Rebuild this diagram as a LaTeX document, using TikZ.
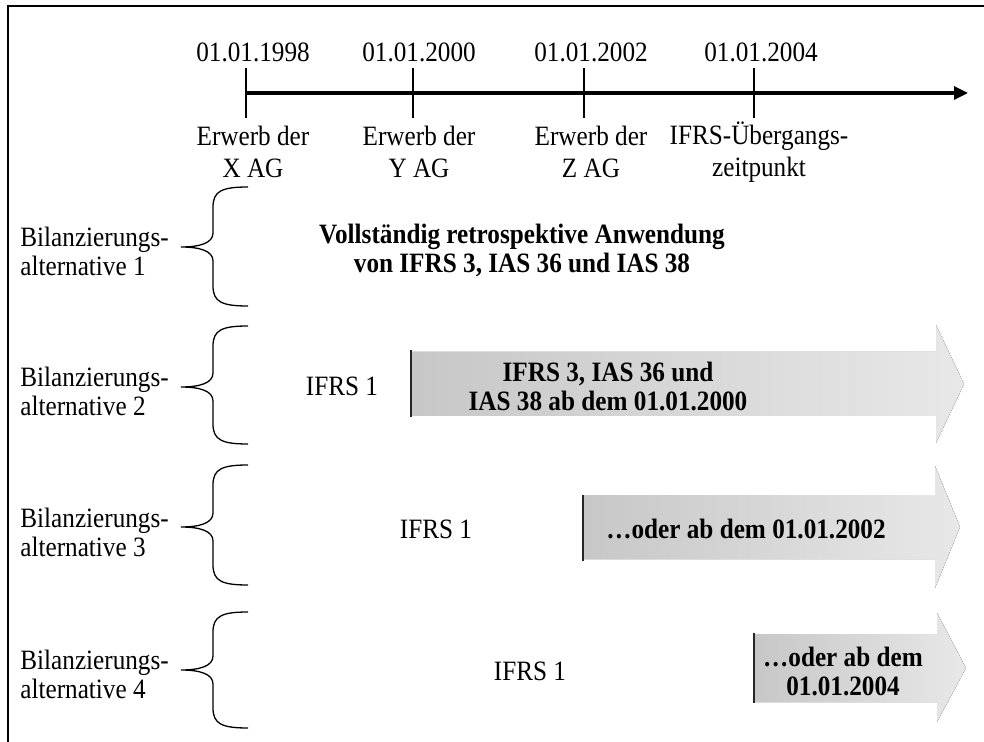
\documentclass[tikz,border=0pt]{standalone}
\usepackage{fontspec}
\setmainfont{Liberation Serif}[FakeStretch=0.9]
\usetikzlibrary{arrows.meta}
\tikzset{
  txt/.style={font=\fontsize{14}{14.5}\selectfont, inner sep=0pt, align=center},
  toptxt/.style={font=\fontsize{14}{16}\selectfont, inner sep=0pt, align=center},
  boldtxt/.style={font=\fontsize{14}{14.5}\selectfont\bfseries, inner sep=0pt, align=center},
  lefttxt/.style={font=\fontsize{14}{14.5}\selectfont, inner sep=0pt, align=left, anchor=west},
  tickline/.style={line width=0.6pt},
  axisline/.style={line width=1.6pt, -{Triangle[length=7pt,width=6.5pt]}},
  bracestyle/.style={line width=0.65pt},
  startbar/.style={line width=1.1pt, black!85},
  shadearrow/.style={left color=black!22, right color=black!9, draw=none},
  framestyle/.style={line width=0.8pt}
}
\newcommand{\mybrace}[3]{%
  \draw[bracestyle] (248,#1) .. controls (222,#1) and (213,#1+4) .. (213,#1+20)
    -- (213,#2-14) .. controls (213,#2-4) and (200,#2) .. (181,#2)
    .. controls (200,#2) and (213,#2+4) .. (213,#2+14)
    -- (213,#3-20) .. controls (213,#3-4) and (222,#3) .. (248,#3);}
\begin{document}
\begin{tikzpicture}[x=0.5pt,y=-0.5pt]
\useasboundingbox (0,0) rectangle (984,742);
% frame
\draw[framestyle] (984,6) -- (8,6) -- (8,742);

% timeline
\coordinate (t0) at (246,93);
\coordinate (tend) at (968,93);
\draw[axisline] (t0) -- (tend);
\foreach \n/\x in {a/246,b/413,c/584,d/754}{
  \coordinate (\n top) at (\x,68);
  \coordinate (\n bot) at (\x,118);
  \draw[tickline] (\n top) -- (\n bot);
}
\node[txt] (d1) at (253,52) {01.01.1998};
\node[txt] (d2) at (419,52) {01.01.2000};
\node[txt] (d3) at (591,52) {01.01.2002};
\node[txt] (d4) at (761,52) {01.01.2004};

\node[toptxt] (e1) at (253,152) {Erwerb der\\X AG};
\node[toptxt] (e2) at (419,152) {Erwerb der\\Y AG};
\node[toptxt] (e3) at (591,152) {Erwerb der\\Z AG};
\node[toptxt] (e4) at (759,152) {IFRS-Übergangs-\\zeitpunkt};

% alternatives labels
\node[lefttxt] (l1) at (20,251) {Bilanzierungs-\\alternative 1};
\node[lefttxt] (l2) at (20,391) {Bilanzierungs-\\alternative 2};
\node[lefttxt] (l3) at (20,532) {Bilanzierungs-\\alternative 3};
\node[lefttxt] (l4) at (20,674) {Bilanzierungs-\\alternative 4};

% braces
\mybrace{187}{247}{306}
\mybrace{326}{387}{444}
\mybrace{465}{527}{585}
\mybrace{612}{670}{728}

% alternative 1
\node[boldtxt] (a1) at (522,250) {Vollständig retrospektive Anwendung\\von IFRS 3, IAS 36 und IAS 38};

% alternative 2
\fill[shadearrow] (411,352) -- (936,352) -- (936,325) -- (964,384) -- (936,443) -- (936,416) -- (411,416) -- cycle;
\coordinate (b2t) at (411,350);
\coordinate (b2b) at (411,417);
\draw[startbar] (b2t) -- (b2b);
\node[txt] (i2) at (342,386) {IFRS 1};
\node[boldtxt] (a2) at (608,386) {IFRS 3, IAS 36 und\\IAS 38 ab dem 01.01.2000};

% alternative 3
\fill[shadearrow] (583,495) -- (935,495) -- (935,466) -- (960,527) -- (935,588) -- (935,559) -- (583,559) -- cycle;
\coordinate (b3t) at (583,495);
\coordinate (b3b) at (583,561);
\draw[startbar] (b3t) -- (b3b);
\node[txt] (i3) at (436,529) {IFRS 1};
\node[boldtxt] (a3) at (746,529) {…oder ab dem 01.01.2002};

% alternative 4
\fill[shadearrow] (754,634) -- (937,634) -- (937,613) -- (966,668) -- (937,722) -- (937,702) -- (754,702) -- cycle;
\coordinate (b4t) at (754,633);
\coordinate (b4b) at (754,703);
\draw[startbar] (b4t) -- (b4b);
\node[txt] (i4) at (530,671) {IFRS 1};
\node[boldtxt] (a4) at (843,671) {…oder ab dem\\01.01.2004};
\end{tikzpicture}
\end{document}
